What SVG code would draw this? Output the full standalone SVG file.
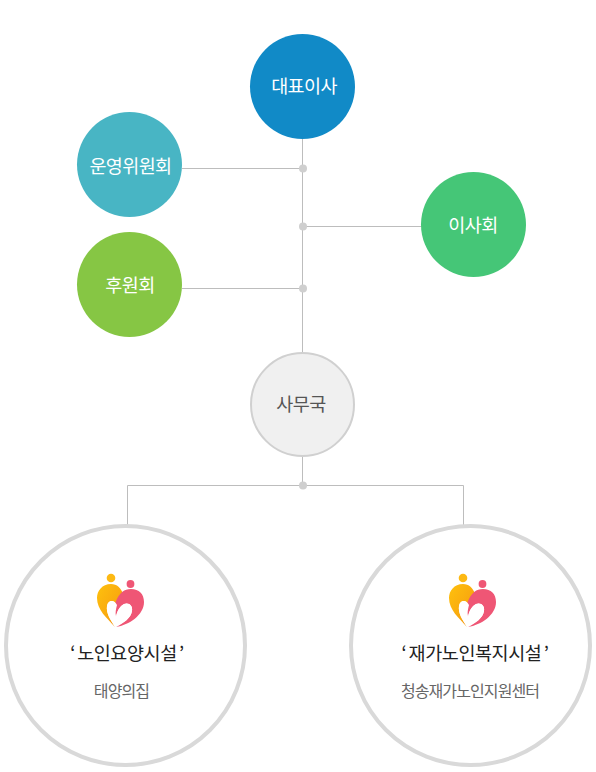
<svg xmlns="http://www.w3.org/2000/svg" width="596" height="772" viewBox="0 0 596 772">
<style>
text{font-family:"Noto Sans CJK KR","Noto Sans",sans-serif;text-anchor:middle}
.w{font-size:18.500px;fill:#fff;letter-spacing:-.6px}
.g{font-size:18.500px;fill:#555;letter-spacing:-.6px}
.t{font-size:18.500px;fill:#222;letter-spacing:-.4px;word-spacing:-1.500px}
.s{font-size:16px;fill:#666;letter-spacing:-.9px}
.l{fill:none;stroke:#bdbdbd;stroke-width:1}
.d{fill:#cfcfcf}
.big{fill:#fff;stroke:#d9d9d9;stroke-width:4}
</style>
<defs>
<linearGradient id="o" x1="0" y1="0" x2="1" y2="1"><stop offset="0" stop-color="#fec10d"/><stop offset=".6" stop-color="#f9a80f"/><stop offset="1" stop-color="#ee8a1e"/></linearGradient>
<g id="logo">
<circle cx="14" cy="5" r="4.300" fill="#fdb913"/>
<circle cx="33.500" cy="11" r="3.900" fill="#ef5675"/>
<path d="M14 11C5 11 0 18 0 25C0 37 10 45 18 54C13 46 9 40 10 33C11 27 17 26 20 32C21 27 25 24 26 21C24 15 20 11 14 11Z" fill="url(#o)"/>
<path d="M34 16C27 16 23 20 20 26C17 31 17 38 19 44C20 38 23 33 27 31C32 29 36 33 35 38C34 45 27 50 19 54C32 52 47 42 47 29C47 21 42 16 34 16Z" fill="#ef5675"/>
<path d="M20 32C17 26 11 27 10 33C9 40 13 46 18 54C26 50 34 45 35 38C36 33 32 29 27 31C23 33 20 38 19 44C18 40 19 36 20 32Z" fill="#fff"/>
</g>
</defs>
<g id="connectors">
<path class="l" d="M302.500 138V353M182 168.500H302.500M302.500 226.500H422M182 288.500H302.500M302.500 456V485.500M127.500 525V485.500H463.500V525"/>
<circle class="d" cx="303" cy="168.500" r="4"/>
<circle class="d" cx="303" cy="226.500" r="4"/>
<circle class="d" cx="303" cy="288.500" r="4"/>
<circle class="d" cx="303" cy="485.500" r="4"/>
</g>
<g id="node-ceo"><circle cx="302.500" cy="86.500" r="52.500" fill="#118ac7"/><text class="w" x="304" y="93">대표이사</text></g>
<g id="node-committee"><circle cx="129.500" cy="164.500" r="52.500" fill="#48b5c4"/><text class="w" x="130.500" y="173">운영위원회</text></g>
<g id="node-board"><circle cx="473.500" cy="224.500" r="52.500" fill="#45c677"/><text class="w" x="473" y="232">이사회</text></g>
<g id="node-support"><circle cx="129.500" cy="284.500" r="52.500" fill="#86c644"/><text class="w" x="130" y="292">후원회</text></g>
<g id="node-office"><circle cx="302.500" cy="404.500" r="51.500" fill="#f0f0f0" stroke="#d0d0d0" stroke-width="2"/><text class="g" x="301" y="411">사무국</text></g>
<g id="node-care"><circle cx="125.500" cy="645.500" r="119.500" class="big"/><use href="#logo" x="97" y="573"/><text class="t" x="127" y="660">‘ 노인요양시설 ’</text><text class="s" x="121.500" y="697">태양의집</text></g>
<g id="node-home"><circle cx="470.500" cy="645.500" r="119.500" class="big"/><use href="#logo" x="449" y="573"/><text class="t" x="475" y="660">‘ 재가노인복지시설 ’</text><text class="s" x="470" y="697">청송재가노인지원센터</text></g>
</svg>
